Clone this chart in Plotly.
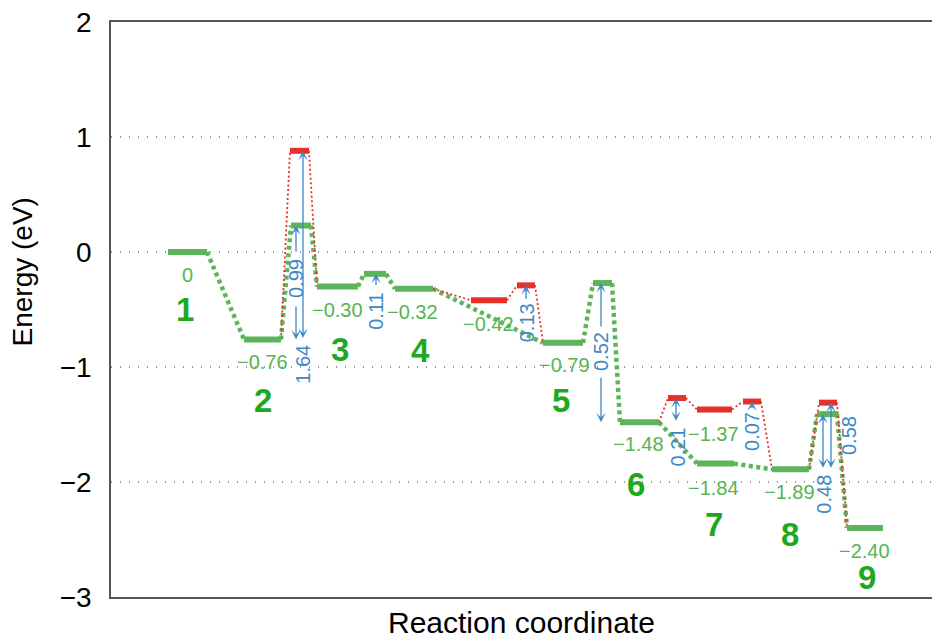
import plotly.graph_objects as go

# ---------------- data ----------------
# energy levels: name, x start, x end (reaction-coordinate units), energy (eV)
green_names = ["L1", "L2", "T1g", "L3", "T2", "L4", "L5", "T4g", "L6", "L7", "L8", "T7g", "L9"]
green_x0 = [57, 133, 180, 206, 253, 284, 432, 482, 509, 586, 661, 706, 736]
green_x1 = [96, 170, 200, 247, 275, 322, 472, 501, 548, 623, 698, 726, 772]
green_e = [0.0, -0.76, 0.23, -0.30, -0.19, -0.32, -0.79, -0.27, -1.48, -1.84, -1.89, -1.41, -2.40]

red_names = ["T1r", "R1", "T3r", "T5r", "R2", "T6r", "T7r"]
red_x0 = [179, 360, 406, 557, 586, 632, 708]
red_x1 = [198, 396, 424, 575, 621, 650, 726]
red_e = [0.88, -0.42, -0.29, -1.27, -1.37, -1.30, -1.31]

green_path = green_names
red_paths = [["L2", "T1r", "L3"],
             ["L4", "R1", "T3r", "L5"],
             ["L6", "T5r", "R2", "T6r", "L8"],
             ["L8", "T7r", "L9"]]

# energy value labels: text, x, y
value_text = ["0", "−0.76", "−0.30", "−0.32", "−0.42", "−0.79", "−1.48", "−1.37", "−1.84", "−1.89", "−2.40"]
value_x = [76, 151, 226, 301, 377, 453, 527, 602, 602, 678, 753]
value_y = [-0.20, -0.96, -0.50, -0.52, -0.63, -0.98, -1.67, -1.58, -2.05, -2.09, -2.60]

# state numbers
state_text = ["1", "2", "3", "4", "5", "6", "7", "8", "9"]
state_x = [74, 152, 229, 309, 450, 525, 603, 679, 756]
state_y = [-0.50, -1.29, -0.85, -0.86, -1.29, -2.02, -2.37, -2.46, -2.83]

# barrier arrows: x, from energy, to energy, double-headed
arrow_x = [185, 185, 192, 265, 415, 490, 490, 565, 641, 712, 720]
arrow_from = [-0.01, -0.46, -0.76, -0.30, -0.42, -0.66, -1.08, -1.48, -1.37, -1.89, -1.89]
arrow_to = [0.23, -0.76, 0.88, -0.19, -0.29, -0.27, -1.48, -1.27, -1.30, -1.41, -1.31]
arrow_double = [False, False, True, False, False, False, False, True, False, True, True]

# barrier labels
barrier_text = ["0.99", "1.64", "0.11", "0.13", "0.52", "0.21", "0.07", "0.48", "0.58"]
barrier_x = [185, 192, 265, 416, 490, 566, 641, 713, 738]
barrier_y = [-0.235, -0.98, -0.52, -0.62, -0.87, -1.70, -1.565, -2.11, -1.60]

y_ticks = [-3, -2, -1, 0, 1, 2]
y_ticktext = ["−3", "−2", "−1", "0", "1", "2"]

# ---------------- styles ----------------
GREEN = "#5cb55a"
GREEN_TXT = "#55b552"
GREEN_NUM = "#1ea81e"
RED = "#e8302a"
BLUE = "#3d88c8"
FONT = "Liberation Sans, Arial, Helvetica, sans-serif"

lv = {}
for n, a, b, e in zip(green_names, green_x0, green_x1, green_e):
    lv[n] = (a, b, e)
for n, a, b, e in zip(red_names, red_x0, red_x1, red_e):
    lv[n] = (a, b, e)


def connectors(path):
    xs, ys = [], []
    for p, q in zip(path[:-1], path[1:]):
        xs += [lv[p][1], lv[q][0], None]
        ys += [lv[p][2], lv[q][2], None]
    return xs, ys


def bars(names):
    xs, ys = [], []
    for n in names:
        xs += [lv[n][0], lv[n][1], None]
        ys += [lv[n][2], lv[n][2], None]
    return xs, ys


fig = go.Figure()

gx, gy = connectors(green_path)
fig.add_trace(go.Scatter(x=gx, y=gy, mode="lines", hoverinfo="skip",
                         line=dict(color=GREEN, width=4.5, dash="4px,3.5px")))
rx, ry = [], []
for p in red_paths:
    a, b = connectors(p)
    rx += a
    ry += b
fig.add_trace(go.Scatter(x=rx, y=ry, mode="lines", hoverinfo="skip",
                         line=dict(color=RED, width=1.8, dash="2px,2.5px")))

bx, by = bars(green_names)
fig.add_trace(go.Scatter(x=bx, y=by, mode="lines", hoverinfo="skip",
                         line=dict(color=GREEN, width=6)))
bx, by = bars(red_names)
fig.add_trace(go.Scatter(x=bx, y=by, mode="lines", hoverinfo="skip",
                         line=dict(color=RED, width=6)))

ann = []
for x, y0, y1, d in zip(arrow_x, arrow_from, arrow_to, arrow_double):
    ann.append(dict(x=x, y=y1, ax=x, ay=y0, xref="x", yref="y", axref="x", ayref="y",
                    text="", showarrow=True, arrowhead=3, arrowsize=1.2, arrowwidth=1.3,
                    arrowcolor=BLUE, startarrowhead=3, startarrowsize=1.2,
                    arrowside="end+start" if d else "end"))
for t, x, y in zip(barrier_text, barrier_x, barrier_y):
    ann.append(dict(x=x, y=y, xref="x", yref="y", text=t, showarrow=False, textangle=-90,
                    xanchor="center", yanchor="middle",
                    font=dict(family=FONT, size=20, color=BLUE)))
for t, x, y in zip(value_text, value_x, value_y):
    ann.append(dict(x=x, y=y, xref="x", yref="y", text=t, showarrow=False,
                    xanchor="center", yanchor="middle",
                    font=dict(family=FONT, size=20, color=GREEN_TXT)))
for t, x, y in zip(state_text, state_x, state_y):
    ann.append(dict(x=x, y=y, xref="x", yref="y", text="<b>" + t + "</b>", showarrow=False,
                    xanchor="center", yanchor="middle",
                    font=dict(family=FONT, size=33, color=GREEN_NUM)))
ann.append(dict(x=-0.108, y=0.565, xref="paper", yref="paper", text="Energy (eV)",
                showarrow=False, textangle=-90, xanchor="center", yanchor="middle",
                font=dict(family=FONT, size=28, color="black")))
ann.append(dict(x=0.5, y=-0.045, xref="paper", yref="paper", text="Reaction coordinate",
                showarrow=False, xanchor="center", yanchor="middle",
                font=dict(family=FONT, size=30, color="black")))

fig.update_layout(
    width=932, height=639,
    margin=dict(l=111, r=0, t=22, b=42),
    plot_bgcolor="white", paper_bgcolor="white",
    showlegend=False,
    annotations=ann,
    xaxis=dict(range=[0, 821], showticklabels=False, showgrid=False, zeroline=False,
               showline=True, mirror=True, linecolor="#555", linewidth=1.5, ticks=""),
    yaxis=dict(range=[-3, 2], tickvals=y_ticks, ticktext=y_ticktext, showgrid=True,
               gridcolor="#999", griddash="1px,8px", gridwidth=1.5, zeroline=False,
               showline=True, mirror=False, linecolor="#555", linewidth=1.5, ticks="",
               ticklabelstandoff=12,
               tickfont=dict(family=FONT, size=28, color="black")),
)

fig.write_html("out.html")
